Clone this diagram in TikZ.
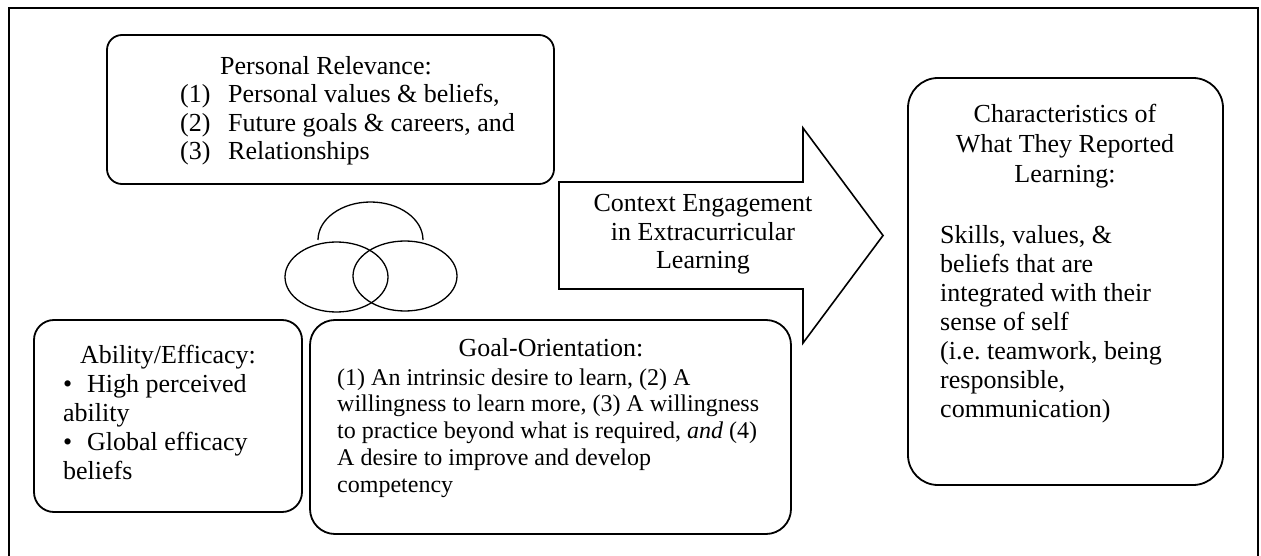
\documentclass[tikz,border=0pt]{standalone}
\usepackage{fontspec}
\setmainfont{Liberation Serif}
\frenchspacing
\newcommand{\listnum}[1]{\makebox[48pt][l]{#1}}
\newcommand{\bul}{\makebox[24pt][l]{\textbullet}}
\begin{document}
\begin{tikzpicture}[x=1pt, y=-1pt,
    box/.style={draw=black, line width=1.8pt, rounded corners=#1, inner sep=0pt},
    box/.default=20pt,
    txt/.style={inner sep=0pt, font=\fontsize{26}{29}\selectfont},
    venn/.style={line width=1.3pt}
]
    \useasboundingbox (0,0) rectangle (1261,556);
    \draw[line width=2.5pt] (9,600) -- (9,8) -- (1258,8) -- (1258,600);

    % personal relevance (multi-line texts sit on their last baseline)
    \node[box=15pt, minimum width=447, minimum height=149] (relevance) at (330.5,109.5) {};
    \node[txt, anchor=base] (relevancetitle) at (326,75) {Personal Relevance:};
    \node[txt, anchor=base west, align=left, font=\fontsize{26}{28.3}\selectfont] (relevancelist) at (180,159.6)
        {\listnum{(1)}Personal values \& beliefs,\\\listnum{(2)}Future goals \& careers, and\\\listnum{(3)}Relationships};

    % overlapping circles
    \draw[venn] (318,240) arc[start angle=180, end angle=360, x radius=52.5, y radius=38];
    \draw[venn] (336.5,277) ellipse [x radius=51.5, y radius=35];
    \draw[venn] (405,276) ellipse [x radius=52, y radius=35];

    % ability
    \node[box=20pt, minimum width=268, minimum height=192] (ability) at (168,416) {};
    \node[txt, anchor=base] (abilitytitle) at (168,363) {Ability/Efficacy:};
    \node[txt, anchor=base west, align=left] (abilitylist) at (63,479)
        {\bul High perceived\\ability\\\bul Global efficacy\\beliefs};

    % goal orientation
    \node[box=25pt, minimum width=481, minimum height=214] (goal) at (550.5,427) {};
    \node[txt, anchor=base] (goaltitle) at (551,356) {Goal-Orientation:};
    \node[txt, anchor=base west, align=left, font=\fontsize{24}{26.75}\selectfont] (goallist) at (337,492)
        {(1) An intrinsic desire to learn, (2) A\\willingness to learn more, (3) A willingness\\to practice beyond what is required, \textit{and} (4)\\A desire to improve and develop\\competency};

    % big arrow
    \draw[line width=1.6pt] (559,182) -- (803,182) -- (803,128) -- (883,235.5)
        -- (803,343) -- (803,289) -- (559,289) -- cycle;
    \node[txt, anchor=base, align=center, font=\fontsize{26}{28}\selectfont] (engage) at (703,268)
        {Context Engagement\\in Extracurricular\\Learning};

    % learning outcomes
    \node[box=30pt, minimum width=315, minimum height=407] (learned) at (1065.5,281.5) {};
    \node[txt, anchor=base, align=center, font=\fontsize{26}{30}\selectfont] (learnedtitle) at (1065,183)
        {Characteristics of\\What They Reported\\Learning:};
    \node[txt, anchor=base west, align=left] (learnedlist) at (940,417)
        {Skills, values, \&\\beliefs that are\\integrated with their\\sense of self\\(i.e. teamwork, being\\responsible,\\communication)};
\end{tikzpicture}
\end{document}
